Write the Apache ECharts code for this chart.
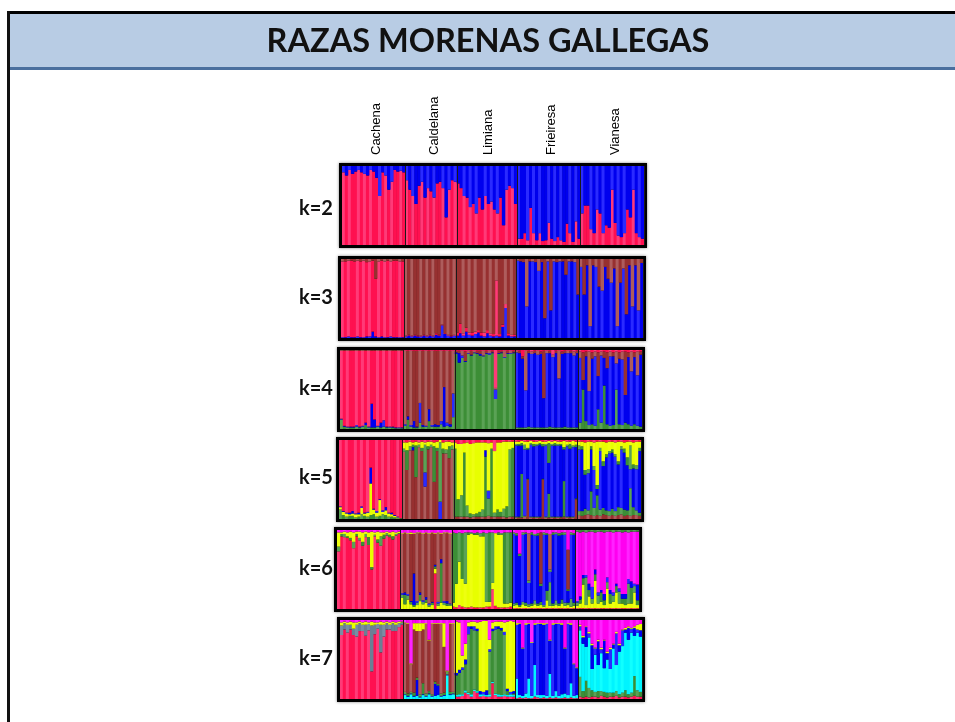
<!DOCTYPE html>
<html>
<head>
<meta charset="utf-8">
<title>Razas morenas gallegas</title>
<script src="https://cdn.jsdelivr.net/npm/echarts@6/dist/echarts.min.js"></script>
<style>html,body{margin:0;padding:0;background:#fff}#c{width:955px;height:722px}</style>
</head>
<body>
<div id="c"></div>
<script>
const chartTitle = 'RAZAS MORENAS GALLEGAS';
const populations = ['Cachena','Caldelana','Limiana','Frieiresa','Vianesa'];
const popSizes = [21,17,20,21,21];
const popLabelBars = [11,30,48,69,90];
const kLabels = ['k=2','k=3','k=4','k=5','k=6','k=7'];

// k=2
const k2Red = [92,88,95,90,93,95,92,90,88,95,93,85,62,92,88,70,80,95,93,94,92, 82,70,62,52,75,80,60,72,68,60,78,80,72,35,70,82,80, 78,72,62,60,48,52,40,60,45,62,52,55,45,40,60,25,70,75,72,52, 8,8,15,6,47,15,6,15,5,6,28,8,5,10,6,4,27,15,4,30,8, 40,50,50,20,15,45,40,15,25,22,70,28,12,10,15,45,35,70,15,10,8];

// k=3
const k3Blue = [1,1,2,1,1,2,1,1,2,2,8,2,1,2,1,1,2,1,1,1,1, 2,3,2,3,2,2,3,2,3,2,4,3,16,5,3,2,3, 3,6,3,8,4,3,5,7,3,2,6,3,2,3,2,14,38,3,2,2, 0,0,0,0,0,0,0,0,0,0,0,0,0,0,0,0,0,0,0,0,0, 0,0,0,0,0,0,0,0,0,0,0,0,0,0,0,0,0,0,0,0,0];
const k3Red = [0,0,0,0,0,0,0,0,0,0,0,0,0,0,0,0,0,0,0,0,0, 1,1,1,1,1,1,1,1,1,1,2,1,1,1,1,1,1, 4,12,3,5,3,4,3,3,4,5,4,3,3,70,3,3,5,3,2,2, 0,0,0,0,0,0,0,0,0,0,0,0,0,0,0,0,0,0,0,0,0, 0,0,0,0,0,0,0,0,0,0,0,0,0,0,0,0,0,0,0,0,0];
const k3Brown = [3,3,2,2,3,2,3,2,4,3,2,25,3,2,3,2,3,2,2,3,3, 0,0,0,0,0,0,0,0,0,0,0,0,0,0,0,0,0, 0,0,0,0,0,0,0,0,0,0,0,0,0,0,0,0,0,0,0,0, 2,3,4,60,3,3,4,15,4,75,3,65,3,4,3,3,20,3,3,4,45, 10,45,8,85,8,10,35,40,10,25,30,12,85,30,12,70,8,60,8,65,5];

// k=4
const k4Green = [12,3,2,2,2,3,2,3,5,2,2,2,3,2,3,2,2,2,1,1,1, 4,12,3,2,2,8,3,3,10,3,3,3,6,3,4,3,15, 0,0,0,0,0,0,0,0,0,0,0,0,0,0,0,0,0,0,0,0, 2,2,2,2,3,2,2,2,2,2,2,3,2,2,2,2,3,2,2,2,2, 8,50,10,5,6,4,25,8,55,6,4,5,50,6,5,8,6,4,6,4,3];
const k4Blue = [1,1,1,1,1,2,1,1,3,1,30,10,1,6,8,1,1,1,1,1,1, 2,4,2,8,1,25,2,1,15,2,3,2,4,50,4,3,30, 0,0,0,0,0,0,0,0,0,0,0,0,0,0,0,0,0,0,0,0, 0,0,0,0,0,0,0,0,0,0,0,0,0,0,0,0,0,0,0,0,0, 0,0,0,0,0,0,0,0,0,0,0,0,0,0,0,0,0,0,0,0,0];
const k4BlueTop = [0,0,0,0,0,0,0,0,0,0,0,0,0,0,0,0,0,0,0,0,0, 0,0,0,0,0,0,0,0,0,0,0,0,0,0,0,0,0, 2,12,3,1,1,1,1,1,2,1,1,2,1,12,1,1,1,1,1,1, 0,0,0,0,0,0,0,0,0,0,0,0,0,0,0,0,0,0,0,0,0, 0,0,0,0,0,0,0,0,0,0,0,0,0,0,0,0,0,0,0,0,0];
const k4Brown = [1,1,1,1,1,1,1,1,1,1,1,1,1,1,1,1,1,1,1,1,1, 0,0,0,0,0,0,0,0,0,0,0,0,0,0,0,0,0, 2,3,6,12,3,5,2,3,4,6,3,3,2,2,3,2,8,3,3,2, 2,3,3,50,3,3,3,5,3,60,3,3,3,3,35,3,3,3,3,5,3, 8,35,6,50,8,6,30,5,8,20,6,5,15,8,10,55,6,25,6,30,4];
const k4Red = [0,0,0,0,0,0,0,0,0,0,0,0,0,0,0,0,0,0,0,0,0, 1,1,1,1,1,1,1,1,1,1,1,1,1,1,1,1,1, 1,1,1,2,1,1,1,1,1,1,1,1,1,48,1,1,1,1,1,1, 1,1,8,1,1,2,1,1,2,1,1,1,6,1,1,2,1,1,1,2,1, 2,3,2,2,3,2,3,2,2,3,2,3,2,3,2,2,3,2,3,2,2];

// k=5
const k5BrownLow = [0,0,0,0,0,0,0,0,0,0,0,0,0,0,0,0,0,0,0,0,0, 0,0,0,0,0,0,0,0,0,0,0,0,0,0,0,0,0, 3,3,3,3,3,2,3,3,3,3,3,4,3,3,3,3,3,2,3,3, 2,2,2,3,50,2,2,2,2,50,2,2,2,2,2,2,3,2,2,2,25, 5,4,5,6,5,4,5,4,6,5,4,5,4,5,6,4,5,4,5,5,4];
const k5GreenLow = [12,5,3,4,4,2,3,6,4,3,5,6,3,4,6,5,3,3,2,1,1, 0,0,0,0,0,0,0,0,0,0,0,0,0,0,0,0,0, 0,0,0,0,0,0,0,0,0,0,0,0,0,0,0,0,0,0,0,0, 1,1,55,1,1,1,1,1,1,1,1,30,1,1,1,1,45,1,1,1,1, 5,6,8,5,30,10,25,8,8,6,6,8,6,10,8,8,6,35,10,6,4];
const k5YellowLow = [3,4,4,2,3,4,3,8,3,5,40,6,5,20,3,6,4,3,2,1,0, 0,0,0,0,0,0,0,0,0,0,0,0,0,0,0,0,0, 0,0,0,0,0,0,0,0,0,0,0,0,0,0,0,0,0,0,0,0, 0,0,0,0,0,0,0,0,0,0,0,0,0,0,0,0,0,0,0,0,0, 0,0,0,0,0,0,0,0,0,0,0,0,0,0,0,0,0,0,0,0,0];
const k5BlueLow = [1,1,1,2,3,1,2,2,1,1,20,1,2,1,2,4,1,2,1,1,0, 0,0,0,0,0,0,0,0,0,0,0,0,0,0,0,0,0, 0,0,0,0,0,0,0,0,0,0,0,0,0,0,0,0,0,0,0,0, 0,0,0,0,0,0,0,0,0,0,0,0,0,0,0,0,0,0,0,0,0, 0,0,0,0,0,0,0,0,0,0,0,0,0,0,0,0,0,0,0,0,0];
const k5BlueTop = [0,0,0,0,0,0,0,0,0,0,0,0,0,0,0,0,0,0,0,0,0, 0,0,0,4,0,0,0,18,0,0,0,0,22,0,0,0,0, 0,0,0,0,0,0,0,0,0,0,8,10,0,0,0,0,0,0,0,0, 0,0,0,0,0,0,0,0,0,0,0,0,0,0,0,0,0,0,0,0,0, 0,0,0,0,0,0,0,0,0,0,0,0,0,0,0,0,0,0,0,0,0];
const k5GreenTop = [0,0,0,0,0,0,0,0,0,0,0,0,0,0,0,0,0,0,0,0,0, 4,25,5,3,40,3,4,35,4,3,45,4,75,6,5,15,5, 0,0,0,0,0,0,0,0,0,0,0,0,0,0,0,0,0,0,0,0, 2,2,3,6,2,2,3,2,2,3,2,25,2,3,2,2,3,2,6,2,3, 5,4,6,5,4,5,5,4,6,4,3,4,3,4,4,5,10,30,5,5,4];
const k5YellowTop = [0,0,0,0,0,0,0,0,0,0,0,0,0,0,0,0,0,0,0,0,0, 8,10,6,3,5,3,8,3,6,4,5,8,12,8,10,6,4, 8,70,65,12,80,88,90,90,88,85,10,60,8,78,85,88,85,82,10,8, 3,3,3,4,8,3,3,3,3,3,3,3,3,3,3,3,8,4,3,6,4, 5,6,35,35,6,30,55,8,25,15,12,10,15,25,6,8,20,5,28,30,8];
const k5RedTop = [0,0,0,0,0,0,0,0,0,0,0,0,0,0,0,0,0,0,0,0,0, 3,3,2,3,2,3,2,3,2,2,3,2,2,3,2,2,3, 3,5,5,4,3,5,4,3,3,3,3,4,3,14,3,3,2,2,2,2, 2,2,1,2,2,1,2,2,1,2,2,1,2,1,2,2,1,2,2,1,2, 2,2,3,2,2,3,2,2,2,3,2,2,3,2,2,3,2,2,3,2,2];

// k=6
const k6RedLow = [0,0,0,0,0,0,0,0,0,0,0,0,0,0,0,0,0,0,0,0,0, 0,0,0,0,0,0,0,0,0,0,0,45,0,0,0,0,0, 3,2,5,3,2,2,3,2,2,2,2,3,3,25,4,2,2,2,2,3, 1,1,1,1,1,1,1,1,1,1,1,1,1,1,1,1,1,1,1,1,1, 1,1,1,1,1,1,1,1,1,1,1,1,1,1,1,1,1,1,1,1,1];
const k6YellowLow = [0,0,0,0,0,0,0,0,0,0,0,0,0,0,0,0,0,0,0,0,0, 14,6,12,6,3,5,10,6,8,3,5,6,4,8,5,4,4, 5,30,55,35,30,92,92,92,92,90,90,6,6,8,92,92,92,5,5,5, 3,4,2,5,3,2,3,5,3,4,2,10,3,3,4,3,6,3,4,2,3, 3,6,30,4,15,6,35,6,8,4,25,6,8,20,6,6,4,6,6,20,4];
const k6GreenLow = [0,0,0,0,0,0,0,0,0,0,0,0,0,0,0,0,0,0,0,0,0, 4,12,5,3,2,3,8,3,4,2,3,3,3,50,3,3,2, 0,0,0,0,0,0,0,0,0,0,0,0,0,0,0,0,0,0,0,0, 3,3,2,3,4,3,3,5,3,4,2,12,30,3,6,3,5,4,3,10,4, 4,5,8,35,8,6,8,10,12,6,8,12,8,8,15,6,8,25,20,8,6];
const k6BlueLow = [0,0,0,0,0,0,0,0,0,0,0,0,0,0,0,0,0,0,0,0,0, 2,3,2,1,40,2,3,2,3,2,1,2,2,5,2,3,1, 0,0,0,0,0,0,0,0,0,0,0,0,0,0,0,0,0,0,0,0, 0,0,0,0,0,0,0,0,0,0,0,0,0,0,0,0,0,0,0,0,0, 2,4,4,3,8,15,6,4,3,8,6,5,4,3,4,6,6,6,8,3,20];
const k6GreenTop = [6,3,4,2,3,8,3,3,5,4,10,3,2,4,12,5,3,3,4,2,1, 0,0,0,0,0,0,0,0,0,0,0,0,0,0,0,0,0, 0,0,0,0,0,0,0,0,0,0,0,0,0,0,0,0,0,0,0,0, 2,3,3,3,2,3,3,2,3,3,3,2,3,3,2,3,3,3,2,3,2, 2,3,2,3,2,2,3,2,2,3,2,2,3,2,2,3,2,3,2,2,2];
const k6BrownTop = [0,0,0,0,0,0,0,0,0,0,0,0,0,0,0,0,0,0,0,0,0, 0,0,0,0,0,0,0,0,0,0,0,0,0,0,0,0,0, 0,0,0,0,0,0,0,0,0,0,0,0,0,0,0,0,0,0,0,0, 0,0,0,0,0,60,0,0,0,65,0,0,45,0,0,0,0,0,50,0,0, 0,0,0,0,0,0,0,0,0,0,0,0,0,0,0,0,0,0,0,0,0];
const k6YellowTop = [18,2,3,5,8,12,3,8,12,3,6,45,3,10,5,3,2,3,6,2,2, 1,1,1,2,1,1,1,1,1,1,1,1,1,1,1,1,1, 0,0,0,0,0,0,0,0,0,0,0,0,0,0,0,0,0,0,0,0, 0,0,0,0,0,0,0,0,0,0,0,0,0,0,0,0,0,0,0,0,0, 0,0,0,0,0,0,0,0,0,0,0,0,0,0,0,0,0,0,0,0,0];
const k6Magenta = [3,3,2,3,2,3,2,2,3,2,3,2,3,2,3,3,2,3,2,3,2, 4,3,4,3,4,3,3,4,3,4,3,4,3,4,3,3,4, 3,4,3,4,3,3,3,4,3,4,3,4,3,3,4,3,4,3,3,3, 3,4,30,3,3,4,3,5,4,3,3,4,5,3,3,4,3,3,25,3,4, 0,0,0,0,0,0,0,0,0,0,0,0,0,0,0,0,0,0,0,0,0];

// k=7
const k7RedLow = [0,0,0,0,0,0,0,0,0,0,0,0,0,0,0,0,0,0,0,0,0, 0,0,0,0,0,0,0,0,0,0,0,0,0,0,0,0,0, 3,3,4,8,6,3,10,8,3,4,3,3,20,5,3,3,4,3,3,3, 1,2,1,2,1,1,3,2,1,2,1,2,1,2,1,1,2,1,2,1,1, 3,2,3,2,3,3,2,4,3,2,3,3,4,2,3,3,2,3,4,3,3];
const k7CyanLow = [0,0,0,0,0,0,0,0,0,0,0,0,0,0,0,0,0,0,0,0,0, 5,3,6,3,4,2,5,3,6,3,4,5,3,4,30,5,6, 2,3,2,3,2,3,2,2,3,2,2,3,2,2,3,2,2,2,3,2, 25,3,3,5,25,3,40,3,4,3,3,30,3,8,3,5,5,4,18,3,4, 0,0,0,0,0,0,0,0,0,0,0,0,0,0,0,0,0,0,0,0,0];
const k7BlueLow = [0,0,0,0,0,0,0,0,0,0,0,0,0,0,0,0,0,0,0,0,0, 1,1,1,1,20,1,1,1,1,1,15,12,1,1,1,1,1, 0,0,0,0,0,0,0,0,0,0,0,0,0,0,0,0,0,0,0,0, 0,0,0,0,0,0,0,0,0,0,0,0,0,0,0,0,0,0,0,0,0, 0,0,0,0,0,0,0,0,0,0,0,0,0,0,0,0,0,0,0,0,0];
const k7GreenLow = [0,0,0,0,0,0,0,0,0,0,0,0,0,0,0,0,0,0,0,0,0, 3,3,2,4,3,3,14,3,3,2,3,2,3,3,4,3,2, 0,0,0,0,0,0,0,0,0,0,0,0,0,0,0,0,0,0,0,0, 0,0,0,0,0,0,0,0,0,0,0,0,0,0,0,0,0,0,0,0,0, 25,8,20,12,8,6,8,6,6,6,5,5,6,4,5,8,4,5,25,8,6];
const k7BlueTop = [0,0,0,0,0,0,0,0,0,0,0,0,0,0,0,0,0,0,0,0,0, 0,0,0,0,0,0,0,0,0,0,0,0,0,0,0,0,0, 3,4,3,6,10,3,5,3,4,3,6,3,3,4,3,3,4,3,3,3, 0,0,0,0,0,0,0,0,0,0,0,0,0,0,0,0,0,0,0,0,0, 5,8,25,5,30,8,30,5,35,8,25,5,40,8,20,4,15,5,10,4,8];
const k7GreyTop = [12,8,10,6,8,15,10,8,14,8,58,12,6,35,15,8,6,10,8,5,3, 0,0,0,0,0,0,0,0,0,0,0,0,0,0,0,0,0, 0,0,0,0,0,0,0,0,0,0,0,0,0,0,0,0,0,0,0,0, 0,0,0,0,0,0,0,0,0,0,0,0,0,0,0,0,0,0,0,0,0, 0,0,0,0,0,0,0,0,0,0,0,0,0,0,0,0,0,0,0,0,0];
const k7YellowTop = [4,2,3,4,8,3,2,3,4,2,5,3,2,4,3,2,3,2,3,2,1, 1,1,1,8,10,10,8,1,1,1,1,1,1,30,1,1,1, 65,60,15,20,5,6,6,8,88,90,88,12,8,6,6,8,12,85,90,88, 2,1,1,2,1,1,2,1,1,2,1,1,2,1,1,2,1,1,2,1,1, 2,2,1,2,2,1,2,2,1,2,2,1,2,2,1,2,2,1,2,6,8];
const k7Magenta = [3,2,3,2,3,3,2,3,2,3,2,3,3,2,3,2,3,2,3,2,2, 3,4,55,4,4,4,4,4,25,4,4,4,4,4,70,4,4, 2,3,45,30,3,2,2,3,2,2,2,25,3,2,2,2,3,2,2,2, 4,4,35,4,4,28,4,4,4,4,4,25,4,4,4,4,35,4,4,55,60, 6,20,8,15,30,35,25,35,25,40,35,30,15,30,12,10,8,10,8,6,5];

// stacking order of each panel, bottom to top; 'rest' is what is left of each column's 100%
const panels = [
  {rest:['blue','blue','blue','blue','blue'], low:[['red',k2Red]], top:[]},
  {rest:['red','brown','brown','blue','blue'], low:[['blue',k3Blue],['red',k3Red]], top:[['brown',k3Brown]]},
  {rest:['red','brown','green','blue','blue'], low:[['green',k4Green],['blue',k4Blue]], top:[['blue',k4BlueTop],['brown',k4Brown],['red',k4Red]]},
  {rest:['red','brown','green','blue','blue'], low:[['brown',k5BrownLow],['green',k5GreenLow],['yellow',k5YellowLow],['blue',k5BlueLow]], top:[['blue',k5BlueTop],['green',k5GreenTop],['yellow',k5YellowTop],['red',k5RedTop]]},
  {rest:['red','brown','green','blue','magenta'], low:[['red',k6RedLow],['yellow',k6YellowLow],['green',k6GreenLow],['blue',k6BlueLow]], top:[['green',k6GreenTop],['brown',k6BrownTop],['yellow',k6YellowTop],['magenta',k6Magenta]]},
  {rest:['red','brown','green','blue','cyan'], low:[['red',k7RedLow],['cyan',k7CyanLow],['blue',k7BlueLow],['green',k7GreenLow]], top:[['blue',k7BlueTop],['slate',k7GreyTop],['yellow',k7YellowTop],['magenta',k7Magenta]]}
];

const palette = {
  red:['#ff1050','#ff3a78'], brown:['#973030','#ae5c5c'], blue:['#0000ee','#2a2aff'],
  green:['#3c8e36','#5aa255'], yellow:['#e8ff00','#eeff10'], magenta:['#ff00f0','#ff22ff'], cyan:['#00f4ff','#10ffff'],
  slate:['#6b7f95','#7a8ea4']
};
const layout = [
  {left:342,top:166,ky:207},{left:341,top:259,ky:296},{left:340,top:350,ky:387},
  {left:339,top:440,ky:476},{left:337,top:530,ky:567},{left:340,top:620,ky:657}
];

const categories = [], popOfBar = [], boundaries = [];
populations.forEach((p, pi) => {
  for (let j = 0; j < popSizes[pi]; j++) { categories.push(p); popOfBar.push(pi); }
  boundaries.push(categories.length);
});

const lightBars = [0,2,5];
const shade = (name, i) => palette[name][lightBars.includes(i % 7) ? 1 : 0];
const grid = [], xAxis = [], yAxis = [], series = [];
panels.forEach((panel, n) => {
  const L = layout[n];
  grid.push({left:L.left, top:L.top, width:302, height:79, show:true, backgroundColor:'#000', borderColor:'#000', borderWidth:6, shadowColor:'rgba(0,0,0,0.5)', shadowBlur:3});
  xAxis.push({
    type:'category', gridIndex:n, data:categories, position:'top', boundaryGap:true, z:9,
    axisLine:{show:false}, axisTick:{show:false},
    splitLine:{show:true, interval:(i) => boundaries.includes(i), lineStyle:{color:'#1a1a1a', width:1}},
    axisLabel:{show:n === 0, rotate:90, margin:11, interval:(i) => popLabelBars.includes(i), color:'#000', fontFamily:'Liberation Sans', fontSize:13}
  });
  yAxis.push({type:'value', gridIndex:n, min:0, max:100, show:false});
  const rest = categories.map((_, i) => {
    let used = 0;
    panel.low.concat(panel.top).forEach(l => { used += l[1][i] || 0; });
    return Math.max(0, 100 - used);
  });
  const add = (name, values, colorOf) => series.push({
    type:'bar', xAxisIndex:n, yAxisIndex:n, stack:'q' + n, name, data:values, barWidth:3.5, silent:true,
    itemStyle:{color:(p) => colorOf(p.dataIndex)}
  });
  panel.low.forEach(l => add(l[0], l[1], i => shade(l[0], i)));
  add('rest', rest, i => shade(panel.rest[popOfBar[i]], i));
  panel.top.forEach(l => add(l[0], l[1], i => shade(l[0], i)));
});

const titles = [{text:chartTitle, left:483, top:20, textAlign:'center', textStyle:{fontFamily:'Lato', fontWeight:'bold', fontSize:32.5, color:'#111'}}];
kLabels.forEach((t, n) => titles.push({text:t, left:294, top:layout[n].ky - 13, textStyle:{fontFamily:'Lato', fontWeight:'bold', fontSize:20, color:'#111'}}));

const chart = echarts.init(document.getElementById('c'), null, {renderer:'canvas'});
chart.setOption({
  animation:false, backgroundColor:'#fff', title:titles, grid, xAxis, yAxis, series,
  graphic:[
    {type:'rect', z:-1, silent:true, shape:{x:9,y:13,width:946,height:55}, style:{fill:'#b8cce4'}},
    {type:'rect', z:-1, silent:true, shape:{x:9,y:67,width:946,height:3}, style:{fill:'#4a6f9e'}},
    {type:'rect', z:-1, silent:true, shape:{x:7,y:11,width:948,height:3}, style:{fill:'#000'}},
    {type:'rect', z:-1, silent:true, shape:{x:7,y:11,width:3,height:711}, style:{fill:'#111'}}
  ]
});
</script>
</body>
</html>
